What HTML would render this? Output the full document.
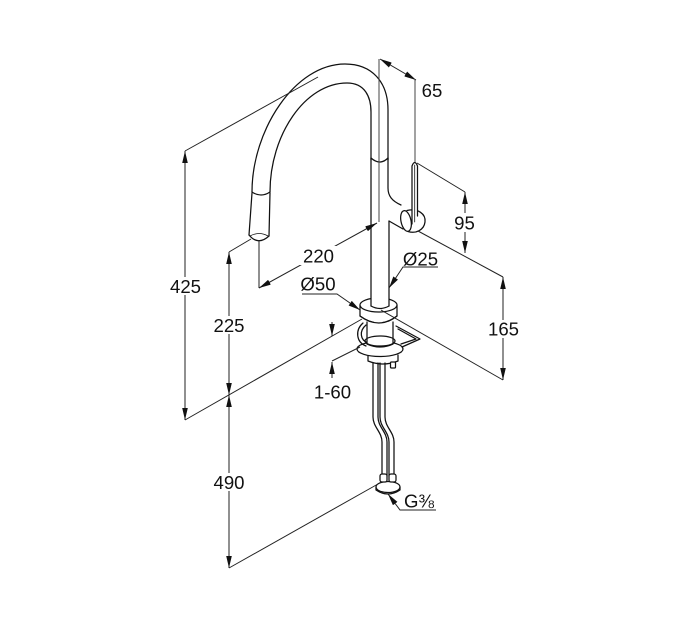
<!DOCTYPE html>
<html><head><meta charset="utf-8"><style>
html,body{margin:0;padding:0;background:#fff;}
svg{display:block}
text{font-family:"Liberation Sans",Arial,sans-serif;font-size:18.6px;fill:#111;}
</style></head><body>
<svg width="680" height="630" viewBox="0 0 680 630" xmlns="http://www.w3.org/2000/svg">
<defs>
<marker id="a" viewBox="0 0 12 5.6" refX="12" refY="2.8" markerWidth="12" markerHeight="5.6" markerUnits="userSpaceOnUse" orient="auto-start-reverse"><path d="M0,0L12,2.8L0,5.6z" fill="#111"/></marker>
</defs>
<rect width="680" height="630" fill="#fff"/>

<!-- faucet -->
<g fill="none" stroke="#111" stroke-width="1.25" stroke-linecap="round" stroke-linejoin="round">
  <!-- flange -->
  <path d="M360,305 L360,316 Q379,330 397,316 L397,305" fill="#fff"/>
  <ellipse cx="378.5" cy="305" rx="18.5" ry="7" fill="#fff"/>
  <!-- clamp / lower parts -->
  <ellipse cx="380" cy="349" rx="23" ry="7.5" fill="#fff"/>
  <path d="M368,356 L368,361 Q383,367 398,361 L398,355"/>
  <path d="M396,326 L420,339 L402,347"/>
  <path d="M398,329 L416,339 L401,344"/>
  <path d="M363,323 C355,330 356,342 366,346"/>
  <path d="M366,325 C359,331 360,340 368,343"/>
  <path d="M367,322 L367,344 Q380,350 393,344 L393,322" fill="#fff"/>
  <ellipse cx="380" cy="341" rx="15" ry="5" />
  <path d="M360,316 Q379,330 397,316" />
  <!-- bolt -->
  <rect x="390.5" y="362" width="5" height="6" rx="1" fill="#fff"/>
  <!-- white mask for pipe -->
  <rect x="371.5" y="160" width="17" height="146" fill="#fff" stroke="none"/>
  <!-- pipe -->
  <path d="M371,158 L371,306"/>
  <path d="M388,158 L388,188 C388,196 392,201 401,205"/>
  <path d="M389,221 L389,306"/>
  <path d="M389,221 L403,229"/>
  <path d="M371,306 Q380,311 389,306"/>
  <path d="M371,158 Q380,166 388,158"/>
  <!-- spout hose -->
  <path d="M252,192 C252,130 295,64 345,64 C372,64 388,82 388,110 L388,160"/>
  <path d="M270,192 C270,135 305,83 347,83 C365,83 371,97 371,112 L371,160"/>
  <!-- spray head -->
  <path d="M252,192 Q261,198 270,192"/>
  <path d="M252,193 L249,235"/>
  <path d="M270,193 L269,236"/>
  <path d="M249,235 Q258,246 269,236"/>
  <path d="M250,236 Q259,231 268,236" stroke-width="0.8"/>
  <!-- knob -->
  <path d="M407,210.5 C418,208 426,214 425,222 C424,230 416,234 408,231.5" fill="#fff"/>
  <ellipse cx="406" cy="221" rx="5" ry="10.5" fill="#fff" transform="rotate(-12 406 221)"/>
  <!-- lever -->
  <path d="M412,224 L412,166 Q414.7,159 417.5,166 L417.5,216" fill="#fff"/>
  <path d="M414.7,165 L414.7,222" stroke-width="0.8"/>
  <!-- tubes -->
  <path d="M373,363 L373,417 C373,427 382,432 382,442 L382,476"/>
  <path d="M378,363 L378,417 C378,427 387,432 387,442 L387,476"/>
  <path d="M380,363 L380,417 C380,427 389,432 389,442 L389,476"/>
  <path d="M385,363 L385,417 C385,427 394,432 394,442 L394,476"/>
  <!-- fitting -->
  <ellipse cx="388" cy="487" rx="12" ry="5.5" fill="#fff"/>
  <path d="M376,487 L376,490 Q388,498 400,490 L400,487"/>
  <rect x="380" y="474" width="7" height="8" rx="2" fill="#fff"/>
  <rect x="389" y="474" width="7" height="8" rx="2" fill="#fff"/>
</g>

<!-- dimension lines -->
<g fill="none" stroke="#222" stroke-width="1">
  <!-- 425 -->
  <path d="M185,151 L185,420" marker-start="url(#a)" marker-end="url(#a)"/>
  <path d="M185,151 L318,77"/>
  <!-- worktop -->
  <path d="M185,420 L362,319"/>
  <!-- 225 / 490 -->
  <path d="M229,252 L229,395" marker-start="url(#a)" marker-end="url(#a)"/>
  <path d="M229,252 L251,239"/>
  <path d="M229,395 L229,568" marker-start="url(#a)" marker-end="url(#a)"/>
  <path d="M229,568 L378,484"/>
  <!-- 220 -->
  <path d="M259,240 L259,288"/>
  <path d="M259,288 L377,223" marker-start="url(#a)" marker-end="url(#a)"/>
  <!-- 65 -->
  <path d="M379,59 L379,222" stroke="#444"/>
  <path d="M415,80 L415,162" stroke="#444"/>
  <path d="M380,59 L416,80" marker-start="url(#a)" marker-end="url(#a)"/>
  <!-- 95 -->
  <path d="M417,163 L465,192"/>
  <path d="M465,192 L465,253" marker-start="url(#a)" marker-end="url(#a)"/>
  <path d="M418,231 L503,277"/>
  <!-- 165 -->
  <path d="M503,277 L503,380" marker-start="url(#a)" marker-end="url(#a)"/>
  <path d="M381,310 L503,380"/>
  <!-- Ø25 -->
  <path d="M438,267 L403,267 L389,288" marker-end="url(#a)"/>
  <!-- Ø50 -->
  <path d="M302,294 L337,294 L360,310" marker-end="url(#a)"/>
  <!-- 1-60 -->
  <path d="M332,322 L332,336" marker-end="url(#a)"/>
  <path d="M332,378 L332,362" marker-end="url(#a)"/>
  <path d="M332,361 L360,347"/>
  <!-- G3/8 -->
  <path d="M436,510 L400,510 L388,494" marker-end="url(#a)"/>
</g>

<!-- text backgrounds -->
<g fill="#fff">
  <rect x="167" y="277" width="37" height="18"/>
  <rect x="210" y="316" width="38" height="18"/>
  <rect x="210" y="473" width="38" height="18"/>
  <rect x="299" y="246" width="39" height="19"/>
  <rect x="452" y="213" width="25" height="19"/>
  <rect x="486" y="320" width="35" height="18"/>
</g>

<g text-anchor="middle">
  <text x="185.5" y="292.8">425</text>
  <text x="229" y="331.8">225</text>
  <text x="229" y="488.8">490</text>
  <text x="318.5" y="262.3">220</text>
  <text x="432" y="96.8">65</text>
  <text x="464.5" y="229.3">95</text>
  <text x="503.5" y="335.3">165</text>
  <text x="420.5" y="265.3">Ø25</text>
  <text x="318" y="290.3">Ø50</text>
  <text x="332.5" y="398.3">1-60</text>
</g>
<text x="404" y="507.3">G⅜</text>
</svg>
</body></html>
